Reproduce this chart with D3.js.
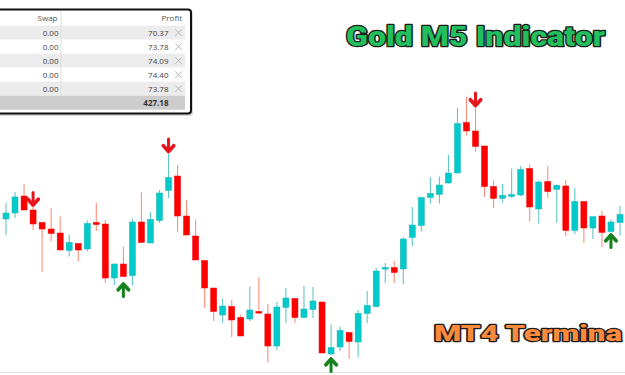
<!DOCTYPE html>
<html>
<head>
<meta charset="utf-8">
<script src="https://cdn.jsdelivr.net/npm/d3@7"></script>
<style>
  html, body { margin: 0; padding: 0; background: #fff; overflow: hidden; }
  svg { display: block; }
</style>
</head>
<body>
<script>
// candle values (chart units)
var opens  = [156, 162, 179, 165, 152.5, 146, 142, 124.5, 131.5, 126, 152.5, 151, 97, 111, 99.5, 153, 132, 154.5, 184.5, 199,
              159, 139, 114.5, 87, 60, 68.5, 57.5, 56, 63.5, 61, 29, 67.5, 76.5, 57.5, 65.5, 73, 21, 28, 42.5, 33,
              61.5, 68.5, 106, 107.5, 106, 137.5, 149.5, 177.5, 180.5, 192, 202, 252.5, 244, 229, 188.5, 176.7, 178.5, 180, 206.5, 166,
              193.5, 185.7, 189, 144.5, 173.5, 147, 159, 143.5, 152.5];
var highs  = [172, 183, 191, 168, 153, 167, 158.5, 140.5, 132, 154.5, 172, 155, 111.5, 128, 156.5, 182.5, 163, 185, 221.5, 210,
              175, 155.5, 115, 87, 76.5, 75, 60.5, 88.5, 98, 71, 73, 87, 76.5, 89, 88, 73, 50.5, 48.5, 42.5, 65,
              84, 107, 112, 114, 138, 168, 178, 198, 198.5, 220, 267, 278, 267.5, 229, 194.5, 191, 206.5, 209, 210.5, 194.5,
              209, 190.5, 195, 187, 173.5, 158.3, 164, 155.5, 169];
var lows   = [140, 157, 165, 145, 103, 133.5, 125, 118.5, 113.5, 123.5, 144, 92, 90, 98.5, 89.5, 132.5, 132, 152, 177, 143.5,
              140, 115, 67, 54, 52, 38, 39, 54, 61.5, 12.5, 25, 52, 52, 57, 57, 22, 20, 24, 16, 18,
              52, 68, 92, 92, 90.5, 129, 143.5, 171.5, 171.5, 191.5, 201.5, 239.5, 223.5, 178, 167, 172, 177, 179, 153.5, 151.5,
              177, 152, 139, 141, 132, 136, 128, 143, 139];
var closes = [162, 178, 165, 151, 146, 141.5, 125, 132.5, 125, 151.5, 150.5, 97, 111, 98.5, 153, 132.5, 155.5, 182, 197.5, 159,
              140, 115, 87, 63.5, 69, 55, 39, 65, 62, 29, 68, 77, 57.5, 66, 74, 22, 27.5, 44.5, 33.5, 61.5,
              69.5, 104, 107.5, 102.5, 136, 150, 177.5, 181.5, 190, 202, 251.5, 244, 228.5, 188.5, 176.7, 179.7, 180.5, 205.5, 168, 193,
              183.5, 189.7, 144.5, 173.5, 147, 158.3, 142.5, 153, 160.5];

// signal arrows: candle index, direction, level of the arrow tip
var arrowIdx   = [3, 13, 18, 36, 52, 67];
var arrowDir   = ['down', 'up', 'down', 'up', 'down', 'up'];
var arrowLevel = [168, 93, 221.5, 18, 267.5, 142];

// terminal table
var swapVals   = ['0.00', '0.00', '0.00', '0.00', '0.00'];
var profitVals = ['70.37', '73.78', '74.09', '74.40', '73.78'];
var profitTotal = '427.18';

var width = 625;
var height = 375;

var svg = d3.select('body').append('svg')
  .attr('width', width)
  .attr('height', height);

var xScale = d3.scaleLinear().domain([0, opens.length - 1]).range([6, 620]);
var yScale = d3.scaleLinear().domain([0, 375]).range([375, 0]);

var candles = opens.map(function(o, i) {
  return { i: i, o: o, h: highs[i], l: lows[i], c: closes[i], up: closes[i] >= o };
});

// faint bottom line
svg.append('line')
  .attr('x1', 0).attr('x2', width)
  .attr('y1', 372.5).attr('y2', 372.5)
  .attr('stroke', '#e4e4e4')
  .attr('stroke-width', 1);

var g = svg.append('g');

g.selectAll('.wick')
  .data(candles)
  .enter().append('line')
  .attr('class', 'wick')
  .attr('x1', function(d) { return xScale(d.i); })
  .attr('x2', function(d) { return xScale(d.i); })
  .attr('y1', function(d) { return yScale(d.h); })
  .attr('y2', function(d) { return yScale(d.l); })
  .attr('stroke', function(d) { return d.up ? '#62c6c6' : '#ff8f7a'; })
  .attr('stroke-width', 1.1);

g.selectAll('.body')
  .data(candles)
  .enter().append('rect')
  .attr('class', 'body')
  .attr('x', function(d) { return xScale(d.i) - 3; })
  .attr('width', 6)
  .attr('y', function(d) { return yScale(Math.max(d.o, d.c)); })
  .attr('height', function(d) { return Math.max(1.6, Math.abs(yScale(d.o) - yScale(d.c))); })
  .attr('fill', function(d) { return d.up ? '#00caca' : '#ff0000'; })
  .attr('stroke', function(d) { return d.up ? '#18b4b4' : '#ee0000'; })
  .attr('stroke-width', 0.5);

// arrows
var arrows = arrowIdx.map(function(idx, k) {
  return { i: idx, dir: arrowDir[k], v: arrowLevel[k] };
});

var arrowG = g.selectAll('.arrow')
  .data(arrows)
  .enter().append('g')
  .attr('class', 'arrow')
  .attr('transform', function(d) {
    return 'translate(' + xScale(d.i) + ',' + yScale(d.v) + ')' + (d.dir === 'up' ? ' scale(1,-1)' : '');
  })
  .attr('stroke', function(d) { return d.dir === 'up' ? '#17801f' : '#e8141c'; })
  .attr('fill', 'none')
  .attr('stroke-linecap', 'round')
  .attr('stroke-linejoin', 'round');

arrowG.append('path')
  .attr('d', 'M0,-14.5L0,-2')
  .attr('stroke-width', 3);

arrowG.append('path')
  .attr('d', 'M-5.2,-7.8L0,-2L5.2,-7.8')
  .attr('stroke-width', 3.6);

// terminal table
var tbl = svg.append('g').attr('class', 'table');
var rowTop = 25.7;
var rowH = 14;

tbl.append('rect')
  .attr('x', -4).attr('y', 11)
  .attr('width', 197).attr('height', 105)
  .attr('rx', 3)
  .attr('fill', '#d8d8d8');

tbl.append('rect')
  .attr('x', -5).attr('y', 9.5)
  .attr('width', 196).attr('height', 104)
  .attr('rx', 3)
  .attr('fill', '#fff');

tbl.selectAll('.rowbg')
  .data(profitVals)
  .enter().append('rect')
  .attr('x', 0)
  .attr('y', function(d, i) { return rowTop + i * rowH; })
  .attr('width', 185)
  .attr('height', rowH)
  .attr('fill', function(d, i) { return i % 2 === 0 ? '#ececec' : '#fff'; });

tbl.append('rect')
  .attr('x', 0).attr('y', rowTop + 5 * rowH)
  .attr('width', 185).attr('height', rowH)
  .attr('fill', '#cdcdcd');

tbl.append('line')
  .attr('x1', 61).attr('x2', 61)
  .attr('y1', 11).attr('y2', rowTop + 5 * rowH)
  .attr('stroke', '#dcdcdc');

tbl.append('rect')
  .attr('x', -5).attr('y', 9.5)
  .attr('width', 196).attr('height', 104)
  .attr('rx', 3)
  .attr('fill', 'none')
  .attr('stroke', '#111')
  .attr('stroke-width', 2);

var font = '"Open Sans", "DejaVu Sans", sans-serif';

tbl.append('text')
  .attr('x', 57.5).attr('y', 21)
  .attr('text-anchor', 'end')
  .attr('font-family', font).attr('font-size', 8)
  .attr('fill', '#555')
  .text('Swap');

tbl.append('text')
  .attr('x', 182).attr('y', 21)
  .attr('text-anchor', 'end')
  .attr('font-family', font).attr('font-size', 8)
  .attr('fill', '#555')
  .text('Profit');

tbl.selectAll('.swap')
  .data(swapVals)
  .enter().append('text')
  .attr('class', 'swap')
  .attr('x', 58.5)
  .attr('y', function(d, i) { return rowTop + i * rowH + 9.8; })
  .attr('text-anchor', 'end')
  .attr('font-family', font).attr('font-size', 8)
  .attr('fill', '#444')
  .text(function(d) { return d; });

tbl.selectAll('.profit')
  .data(profitVals)
  .enter().append('text')
  .attr('class', 'profit')
  .attr('x', 168.5)
  .attr('y', function(d, i) { return rowTop + i * rowH + 9.8; })
  .attr('text-anchor', 'end')
  .attr('font-family', font).attr('font-size', 8)
  .attr('fill', '#444')
  .text(function(d) { return d; });

// close crosses
tbl.selectAll('.close')
  .data(profitVals)
  .enter().append('path')
  .attr('class', 'close')
  .attr('d', function(d, i) {
    var cx = 178.5, cy = rowTop + i * rowH + 7;
    return 'M' + (cx - 3.3) + ',' + (cy - 3.3) + 'L' + (cx + 3.3) + ',' + (cy + 3.3) +
           'M' + (cx + 3.3) + ',' + (cy - 3.3) + 'L' + (cx - 3.3) + ',' + (cy + 3.3);
  })
  .attr('stroke', '#b8b8b8')
  .attr('stroke-width', 1)
  .attr('fill', 'none');

tbl.append('text')
  .attr('x', 168.5)
  .attr('y', rowTop + 5 * rowH + 9.8)
  .attr('text-anchor', 'end')
  .attr('font-family', font).attr('font-size', 8)
  .attr('font-weight', 'bold')
  .attr('fill', '#333')
  .text(profitTotal);

// titles
var titleFont = 'Roboto, Inter, "Liberation Sans", sans-serif';

svg.append('text')
  .attr('x', 346).attr('y', 46)
  .attr('font-family', titleFont)
  .attr('font-size', 28)
  .attr('font-weight', 900)
  .attr('textLength', 259)
  .attr('lengthAdjust', 'spacingAndGlyphs')
  .attr('fill', '#22bf5e')
  .attr('stroke', '#1c1c1c')
  .attr('stroke-width', 2.6)
  .attr('stroke-linejoin', 'round')
  .attr('paint-order', 'stroke')
  .text('Gold M5 Indicator');

svg.append('text')
  .attr('x', 434).attr('y', 341)
  .attr('font-family', titleFont)
  .attr('font-size', 22)
  .attr('font-weight', 900)
  .attr('textLength', 188)
  .attr('lengthAdjust', 'spacingAndGlyphs')
  .attr('fill', '#fb8a3c')
  .attr('stroke', '#1c1c1c')
  .attr('stroke-width', 2.4)
  .attr('stroke-linejoin', 'round')
  .attr('paint-order', 'stroke')
  .text('MT4 Termina');
</script>
</body>
</html>
